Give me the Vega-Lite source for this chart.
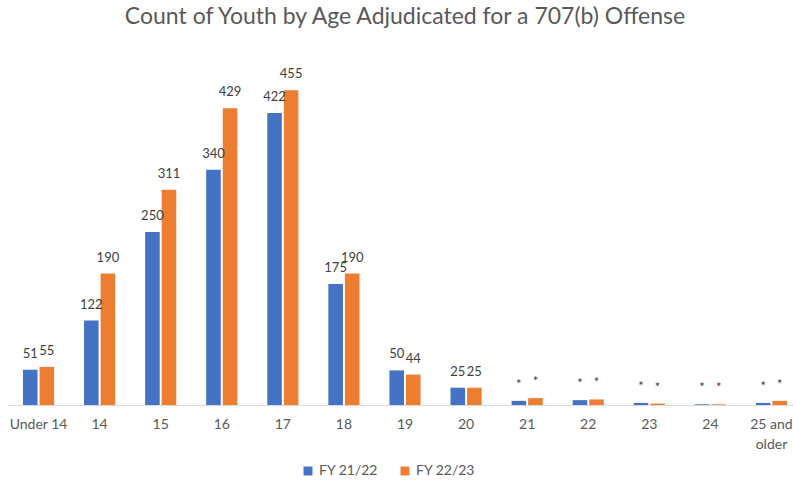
{
  "$schema": "https://vega.github.io/schema/vega-lite/v6.json",
  "width": 794,
  "height": 346,
  "autosize": "none",
  "padding": {"left": 8, "top": 59, "right": 0, "bottom": 78},
  "background": "white",
  "title": {
    "text": "Count of Youth by Age Adjudicated for a 707(b) Offense",
    "font": "Lato",
    "fontSize": 23,
    "fontWeight": "normal",
    "color": "#595959",
    "anchor": "middle",
    "frame": "bounds",
    "offset": 30
  },
  "data": {
    "values": [
      {"age": "Under 14", "fy": "FY 21/22", "count": 51, "label": "51"},
      {"age": "Under 14", "fy": "FY 22/23", "count": 55, "label": "55"},
      {"age": "14", "fy": "FY 21/22", "count": 122, "label": "122"},
      {"age": "14", "fy": "FY 22/23", "count": 190, "label": "190"},
      {"age": "15", "fy": "FY 21/22", "count": 250, "label": "250"},
      {"age": "15", "fy": "FY 22/23", "count": 311, "label": "311"},
      {"age": "16", "fy": "FY 21/22", "count": 340, "label": "340"},
      {"age": "16", "fy": "FY 22/23", "count": 429, "label": "429"},
      {"age": "17", "fy": "FY 21/22", "count": 422, "label": "422"},
      {"age": "17", "fy": "FY 22/23", "count": 455, "label": "455"},
      {"age": "18", "fy": "FY 21/22", "count": 175, "label": "175"},
      {"age": "18", "fy": "FY 22/23", "count": 190, "label": "190"},
      {"age": "19", "fy": "FY 21/22", "count": 50, "label": "50"},
      {"age": "19", "fy": "FY 22/23", "count": 44, "label": "44"},
      {"age": "20", "fy": "FY 21/22", "count": 25, "label": "25"},
      {"age": "20", "fy": "FY 22/23", "count": 25, "label": "25"},
      {"age": "21", "fy": "FY 21/22", "count": 6, "label": "*"},
      {"age": "21", "fy": "FY 22/23", "count": 10, "label": "*"},
      {"age": "22", "fy": "FY 21/22", "count": 7, "label": "*"},
      {"age": "22", "fy": "FY 22/23", "count": 8, "label": "*"},
      {"age": "23", "fy": "FY 21/22", "count": 3, "label": "*"},
      {"age": "23", "fy": "FY 22/23", "count": 2, "label": "*"},
      {"age": "24", "fy": "FY 21/22", "count": 1, "label": "*"},
      {"age": "24", "fy": "FY 22/23", "count": 1, "label": "*"},
      {"age": "25 and older", "fy": "FY 21/22", "count": 3, "label": "*"},
      {"age": "25 and older", "fy": "FY 22/23", "count": 6, "label": "*"}
    ]
  },
  "encoding": {
    "x": {
      "field": "age",
      "type": "nominal",
      "sort": null,
      "scale": {"paddingInner": 0.49, "paddingOuter": 0.245},
      "axis": {
        "title": null,
        "labelAngle": 0,
        "labelFont": "Lato",
        "labelFontSize": 14,
        "labelColor": "#595959",
        "labelPadding": 12,
        "labelExpr": "datum.label == '25 and older' ? ['25 and', 'older'] : datum.label",
        "labelLineHeight": 20,
        "ticks": false,
        "domainColor": "#D9D9D9",
        "domainWidth": 1
      }
    },
    "xOffset": {"field": "fy", "type": "nominal", "scale": {"paddingInner": 0.12}},
    "y": {
      "field": "count",
      "type": "quantitative",
      "scale": {"domain": [0, 500], "nice": false},
      "axis": null
    },
    "color": {
      "field": "fy",
      "type": "nominal",
      "scale": {"domain": ["FY 21/22", "FY 22/23"], "range": ["#4472C4", "#ED7D31"]},
      "legend": {
        "title": null,
        "orient": "none",
        "legendX": 293,
        "legendY": 405,
        "direction": "horizontal",
        "symbolType": "square",
        "symbolSize": 80,
        "symbolStrokeWidth": 0,
        "labelFont": "Lato",
        "labelFontSize": 14,
        "labelColor": "#595959",
        "columnPadding": 19
      }
    }
  },
  "layer": [
    {"mark": {"type": "bar"}},
    {
      "mark": {"type": "text", "baseline": "bottom", "dy": -9, "font": "Lato", "fontSize": 13, "color": "#404040"},
      "encoding": {"text": {"field": "label"}, "color": {"value": "#404040"}}
    }
  ],
  "config": {"view": {"stroke": null}}
}
